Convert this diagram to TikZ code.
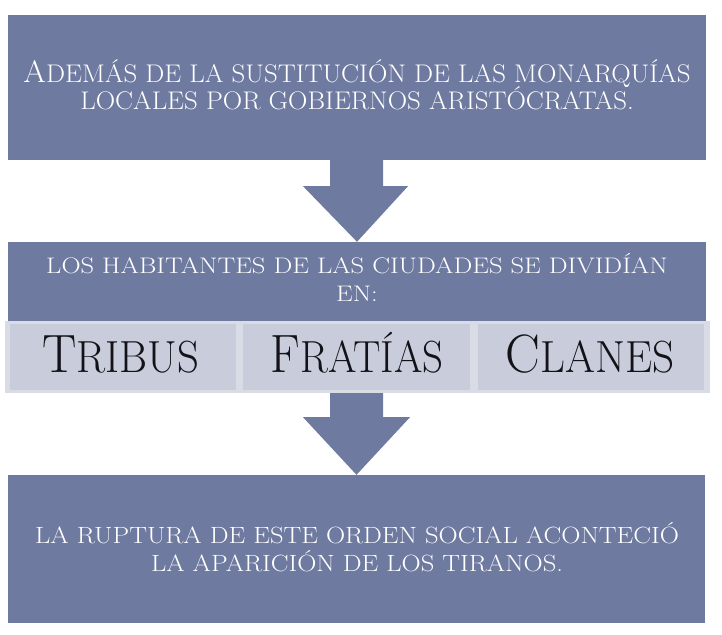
\documentclass[tikz,border=0pt]{standalone}
\usepackage{fontspec}
\usepackage{graphicx}
\usetikzlibrary{calc}
\definecolor{slate}{HTML}{6F7AA0}
\definecolor{barbg}{HTML}{D9DBE5}
\definecolor{cellbg}{HTML}{C9CCDA}
\definecolor{celltext}{HTML}{121218}
\newcommand{\tsz}[2]{\fontsize{#1}{#1}\selectfont\addfontfeatures{LetterSpace=#2}}
\newcommand{\hsc}[2]{\scalebox{#1}[1]{#2}}
\newcommand{\initcap}[2]{{\fontsize{#1}{#1}\selectfont #2}}
\tikzset{
  darkbox/.style={fill=slate, draw=none, inner sep=0pt},
  cellbox/.style={fill=cellbg, draw=barbg, line width=1.2pt, inner sep=0pt, minimum width=228, minimum height=68},
  celltxt/.style={text=celltext, anchor=base, inner sep=0pt, font=\fontsize{45}{45}\selectfont},
  linetxt/.style={text=white, anchor=base, inner sep=0pt},
  blockarrow/.style={fill=slate, draw=none}
}
\begin{document}
\begin{tikzpicture}[x=1pt,y=-1pt]
\useasboundingbox (0,0) rectangle (722,634);
% boxes
\node[darkbox, minimum width=698, minimum height=145] (top) at (357,87.5) {};
\node[darkbox, minimum width=698, minimum height=79] (mid) at (357,281.5) {};
\node[fill=barbg, draw=none, inner sep=0pt, minimum width=705, minimum height=72] (bar) at (357.5,357) {};
\node[cellbox] (c1) at (123,357) {};
\node[cellbox] (c2) at (356.5,357) {};
\node[cellbox] (c3) at (591,357) {};
\node[darkbox, minimum width=697, minimum height=148] (bot) at (356.5,549) {};
% texts
\node[linetxt, font=\tsz{25.5}{12}] (ttop1) at (357,82) {\hsc{1.055}{\initcap{31}{A}DEMÁS DE LA SUSTITUCIÓN DE LAS MONARQUÍAS}};
\node[linetxt, font=\tsz{25.5}{12}] (ttop2) at (357,109.5) {\hsc{1.055}{LOCALES POR GOBIERNOS ARISTÓCRATAS.}};
\node[linetxt, font=\tsz{22.5}{12}] (tmid1) at (357,273.5) {\hsc{1.18}{LOS HABITANTES DE LAS CIUDADES SE DIVIDÍAN}};
\node[linetxt, font=\tsz{22.5}{12}] (tmid2) at (357,301) {\hsc{1.18}{EN:}};
\node[linetxt, font=\tsz{23.5}{12}] (tbot1) at (357,543) {\hsc{1.13}{LA RUPTURA DE ESTE ORDEN SOCIAL ACONTECIÓ}};
\node[linetxt, font=\tsz{23.5}{12}] (tbot2) at (357,571.5) {\hsc{1.13}{LA APARICIÓN DE LOS TIRANOS.}};
\node[celltxt] (t1) at (120.5,372) {\hsc{0.95}{\initcap{54}{T}RIBUS}};
\node[celltxt] (t2) at (357,372) {\hsc{0.91}{\initcap{54}{F}RATÍAS}};
\node[celltxt] (t3) at (590,372) {\hsc{0.96}{\initcap{54}{C}LANES}};
% arrows
\fill[blockarrow] ($(top.south)+(-27,0)$) -- ($(top.south)+(26,0)$) -- ($(top.south)+(26,26)$)
  -- ($(top.south)+(51,26)$) -- (mid.north) -- ($(top.south)+(-54,26)$) -- ($(top.south)+(-27,26)$) -- cycle;
\fill[blockarrow] ($(bar.south)+(-27.5,0)$) -- ($(bar.south)+(25.5,0)$) -- ($(bar.south)+(25.5,24)$)
  -- ($(bar.south)+(52.5,24)$) -- (bot.north) -- ($(bar.south)+(-54.5,24)$) -- ($(bar.south)+(-27.5,24)$) -- cycle;
\end{tikzpicture}
\end{document}
